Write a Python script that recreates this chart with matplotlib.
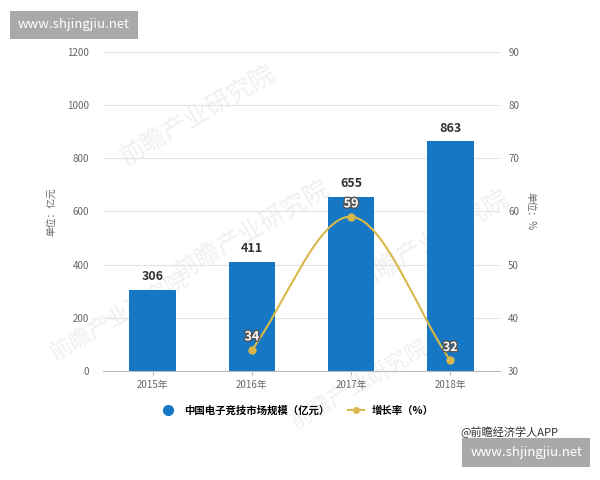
import numpy as np
import matplotlib.pyplot as plt
import matplotlib.patheffects as pe
from matplotlib.path import Path
from matplotlib.patches import PathPatch
from matplotlib.lines import Line2D

plt.rcParams['font.family'] = ['Noto Sans CJK SC', 'DejaVu Sans']

years = ["2015年", "2016年", "2017年", "2018年"]
market_size = [306, 411, 655, 863]
growth_years = [1, 2, 3]
growth_rate = [34, 59, 32]

bar_color = "#1677c4"
line_color = "#d9b84a"
grid_color = "#e3e3e3"
tick_color = "#666666"

fig = plt.figure(figsize=(6, 4.8), dpi=100)
ax = fig.add_axes([0.172, 0.227, 0.661, 0.665])
ax2 = ax.twinx()
ax.patch.set_visible(False)
ax2.patch.set_visible(False)

# faint background watermarks (behind the axes)
for (wx, wy, s) in [(0.33, 0.76, 18), (0.42, 0.52, 18), (0.72, 0.50, 18), (0.20, 0.34, 16), (0.60, 0.20, 16)]:
    fig.text(wx, wy, "前瞻产业研究院", fontsize=s, color="#f0f0f0", rotation=30,
             ha="center", va="center", zorder=-10)

x = np.arange(len(years))
ax.bar(x, market_size, width=0.47, color=bar_color, zorder=2)
for xi, v in zip(x, market_size):
    ax.text(xi, v + 25, str(v), ha="center", va="bottom", fontsize=9,
            fontweight="bold", color="#333333", zorder=4)

ax.set_ylim(0, 1200)
ax.set_yticks(range(0, 1201, 200))
ax.set_xlim(-0.5, 3.5)
ax.set_xticks(x)
ax.set_xticklabels(years)
ax.grid(axis="y", color=grid_color, linewidth=0.8, zorder=0)
ax.set_axisbelow(True)
for sp in ["top", "right", "left"]:
    ax.spines[sp].set_visible(False)
ax.spines["bottom"].set_color("#bbbbbb")
ax.tick_params(axis="y", length=0, labelsize=7, labelcolor=tick_color, pad=10)
ax.tick_params(axis="x", length=3, color="#bbbbbb", labelsize=7, labelcolor=tick_color)
ax.set_ylabel("单位：亿元", fontsize=7, color=tick_color, labelpad=8)

ax2.set_ylim(30, 90)
ax2.set_yticks(range(30, 91, 10))
for sp in ["top", "right", "left", "bottom"]:
    ax2.spines[sp].set_visible(False)
ax2.tick_params(axis="y", length=0, labelsize=7, labelcolor=tick_color, pad=6)
ax2.set_ylabel("单位：%", fontsize=7, color=tick_color, rotation=270, labelpad=12)

# smooth curve through growth points (cubic bezier segments)
pts = np.array(list(zip(growth_years, growth_rate)), dtype=float)
n = len(pts)
tang = np.zeros_like(pts)
for i in range(n):
    if i == 0:
        tang[i] = pts[1] - pts[0]
    elif i == n - 1:
        tang[i] = pts[-1] - pts[-2]
    else:
        tang[i] = (pts[i + 1] - pts[i - 1]) / 2
verts = [tuple(pts[0])]
codes = [Path.MOVETO]
for i in range(n - 1):
    verts += [tuple(pts[i] + tang[i] / 3), tuple(pts[i + 1] - tang[i + 1] / 3), tuple(pts[i + 1])]
    codes += [Path.CURVE4] * 3
ax2.add_patch(PathPatch(Path(verts, codes), fill=False, edgecolor=line_color,
                        linewidth=1.5, zorder=3))
ax2.plot(growth_years, growth_rate, "o", color=line_color, markersize=5, zorder=4)
for xi, v in zip(growth_years, growth_rate):
    ax2.text(xi, v + 1.2, str(v), ha="center", va="bottom", fontsize=9, color="white",
             fontweight="bold", zorder=5,
             path_effects=[pe.withStroke(linewidth=2, foreground="#555555")])

handles = [
    Line2D([], [], marker="o", color=bar_color, linestyle="none", markersize=7),
    Line2D([], [], marker="o", color=line_color, linestyle="-", markersize=4, linewidth=1.5),
]
fig.legend(handles, ["中国电子竞技市场规模（亿元）", "增长率（%）"], loc="center",
           bbox_to_anchor=(0.495, 0.145), ncol=2, frameon=False,
           handlelength=1.5, columnspacing=1.8, prop={'weight': 'bold', 'size': 7.5})

fig.text(0.93, 0.1, "@前瞻经济学人APP", ha="right", va="center", fontsize=8, color="#333333")

fig.text(0.123, 0.948, "www.shjingjiu.net", ha="center", va="center", fontsize=9.5,
         color="white", bbox=dict(boxstyle="square,pad=0.6", fc="#a9a9a9", ec="none"))
fig.text(0.877, 0.058, "www.shjingjiu.net", ha="center", va="center", fontsize=9.5,
         color="white", bbox=dict(boxstyle="square,pad=0.6", fc="#a9a9a9", ec="none"))

fig.savefig("out.png", dpi=100)
